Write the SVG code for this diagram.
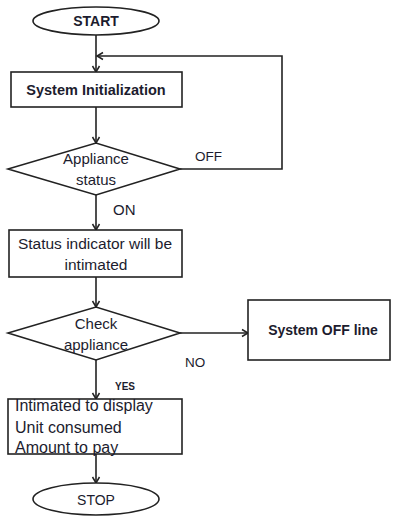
<svg xmlns="http://www.w3.org/2000/svg" width="396" height="517" viewBox="0 0 396 517">
<defs>
<marker id="arr" markerWidth="10" markerHeight="10" refX="8" refY="5" orient="auto" markerUnits="userSpaceOnUse">
<path d="M2,1.5 L8,5 L2,8.5" fill="none" stroke="#222" stroke-width="1.5"/>
</marker>
<style>
.s{fill:#fff;stroke:#222;stroke-width:1.6}
.c{fill:none;stroke:#222;stroke-width:1.6}
text{font-family:"Liberation Sans",Arial,sans-serif;fill:#1c1c2e;font-size:15px}
.m{text-anchor:middle}
.b{font-weight:bold}
</style>
</defs>
<rect width="396" height="517" fill="#fff"/>
<g id="connectors">
<path class="c" d="M96,35 V72" marker-end="url(#arr)"/>
<path class="c" d="M180,169 H282 V56 H97" marker-end="url(#arr)"/>
<path class="c" d="M96,107 V143" marker-end="url(#arr)"/>
<path class="c" d="M96,195 V230" marker-end="url(#arr)"/>
<path class="c" d="M96,277 V307" marker-end="url(#arr)"/>
<path class="c" d="M180,333 H248" marker-end="url(#arr)"/>
<path class="c" d="M96,360 V399" marker-end="url(#arr)"/>
<path class="c" d="M96,454 V483" marker-end="url(#arr)"/>
<text x="195" y="161" style="font-size:13.5px">OFF</text>
<text x="113" y="215">ON</text>
<text x="185" y="367" style="font-size:13.5px">NO</text>
<text x="115" y="390" class="b" style="font-size:10px">YES</text>
</g>
<g id="start">
<ellipse class="s" cx="96" cy="21" rx="63" ry="14"/>
<text x="96" y="26" class="m b" style="font-size:14px">START</text>
</g>
<g id="init">
<rect class="s" x="11" y="72" width="171" height="35"/>
<text x="96" y="95" class="m b" style="font-size:14.5px">System Initialization</text>
</g>
<g id="status">
<polygon class="s" points="8,169 96,143 180,169 96,195"/>
<text x="96" y="164" class="m">Appliance</text>
<text x="96" y="185" class="m">status</text>
</g>
<g id="indicator">
<rect class="s" x="9" y="230" width="173" height="47"/>
<text x="95" y="249" class="m" style="font-size:15.5px">Status indicator will be</text>
<text x="96" y="270" class="m" style="font-size:15.5px">intimated</text>
</g>
<g id="check">
<polygon class="s" points="8,333 96,307 180,333 96,360"/>
<text x="96" y="329" class="m">Check</text>
<text x="96" y="350" class="m">appliance</text>
</g>
<g id="offline">
<rect class="s" x="248" y="300" width="142" height="60"/>
<text x="323" y="335" class="m b" style="font-size:14px">System OFF line</text>
</g>
<g id="display">
<rect class="s" x="8" y="399" width="174" height="55"/>
<text x="15" y="411" style="font-size:16px">Intimated to display</text>
<text x="15" y="433" style="font-size:16px">Unit consumed</text>
<text x="15" y="453" style="font-size:16px">Amount to pay</text>
</g>
<g id="stop">
<ellipse class="s" cx="96" cy="499" rx="63" ry="16"/>
<text x="96" y="505" class="m" style="font-size:14px">STOP</text>
</g>
</svg>
